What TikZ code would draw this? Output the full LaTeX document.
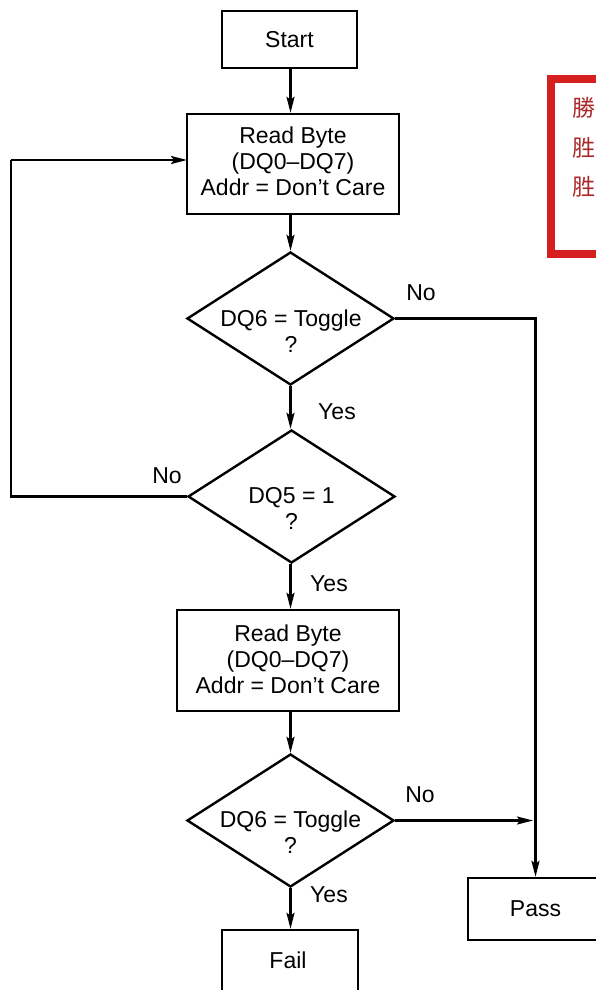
\documentclass[tikz,border=0pt]{standalone}
\usepackage{fontspec}
\setmainfont{Liberation Sans}
\newfontfamily\cjk{Noto Sans CJK TC}
\usetikzlibrary{shapes.geometric,arrows.meta}
\definecolor{stampred}{RGB}{214,32,32}
\definecolor{stamptext}{RGB}{170,40,40}
\begin{document}
\begin{tikzpicture}[x=1pt,y=-1pt,
  txt/.style={align=center,font=\fontsize{23}{26}\selectfont,inner sep=0pt},
  box/.style={draw,line width=2.4pt,inner sep=0pt},
  dia/.style={draw,diamond,line width=2.4pt,inner sep=0pt,minimum width=207pt,minimum height=133pt},
  lbl/.style={font=\fontsize{23}{26}\selectfont,inner sep=0pt},
  line/.style={line width=2.4pt},
  arr/.style={line width=2.4pt,-{Stealth[length=16pt,width=8pt,inset=3pt]}},
  stampbox/.style={draw=stampred,line width=8pt,fill=white},
  stampchar/.style={text=stamptext,font=\cjk\fontsize{23}{23}\selectfont,inner sep=0pt}]
\useasboundingbox (0,0) rectangle (596,990);

% stamp
\node[stampbox,minimum width=70pt,minimum height=175pt] (stamp) at (586,166.5) {};
\node[stampchar] (s1) at (584,108) {勝};
\node[stampchar] (s2) at (584,148) {胜};
\node[stampchar] (s3) at (584,187) {胜};

% boxes
\node[box,minimum width=135pt,minimum height=57pt] (start) at (289.5,39.5) {};
\node[txt] (startt) at (start) {Start};
\node[box,minimum width=212pt,minimum height=100pt] (rb1) at (293,164) {};
\node[txt] (rb1t) at (293,161) {Read Byte\\(DQ0–DQ7)\\Addr = Don’t Care};
\node[dia] (d1) at (290.5,318.5) {};
\node[txt] (d1t) at (291,331) {DQ6 = Toggle\\?};
\node[dia] (d2) at (291.5,496.5) {};
\node[txt] (d2t) at (291.5,508) {DQ5 = 1\\?};
\node[box,minimum width=222pt,minimum height=101pt] (rb2) at (288,660.5) {};
\node[txt] (rb2t) at (288,659) {Read Byte\\(DQ0–DQ7)\\Addr = Don’t Care};
\node[dia] (d3) at (290.5,820.5) {};
\node[txt] (d3t) at (290.5,832) {DQ6 = Toggle\\?};
\node[box,minimum width=135pt,minimum height=62pt] (pass) at (535.5,909) {};
\node[txt] (passt) at (pass) {Pass};
\node[box,minimum width=136pt,minimum height=70pt] (fail) at (290,965) {};
\node[txt] (failt) at (288,960) {Fail};

% labels
\node[lbl] (no1) at (421,293) {No};
\node[lbl] (yes1) at (337,412) {Yes};
\node[lbl] (no2) at (167,476) {No};
\node[lbl] (yes2) at (329,584) {Yes};
\node[lbl] (no3) at (420,795) {No};
\node[lbl] (yes3) at (329,895) {Yes};

% coordinates
\coordinate (loopB) at (11,496.5);
\coordinate (loopT) at (11,160);
\coordinate (boxin) at (187,160);
\coordinate (rtop) at (535.5,318.5);
\coordinate (rmid) at (533,820.5);

% connectors
\draw[arr] (start.south -| d1) -- (d1 |- rb1.north);
\draw[arr] (rb1.south -| d1) -- (d1.north);
\draw[arr] (d1.south) -- (d1.south |- d2.north);
\draw[arr] (d2.south -| d1) -- (d1 |- rb2.north);
\draw[arr] (rb2.south -| d1) -- (d3.north);
\draw[arr] (d3.south) -- (d3 |- fail.north);
\draw[line] (d2.west) -- (loopB) -- (loopT);
\draw[arr] (loopT) -- (boxin);
\draw[arr] (d1.east) -- (rtop) -- (pass.north);
\draw[arr] (d3.east) -- (rmid);
\end{tikzpicture}
\end{document}
